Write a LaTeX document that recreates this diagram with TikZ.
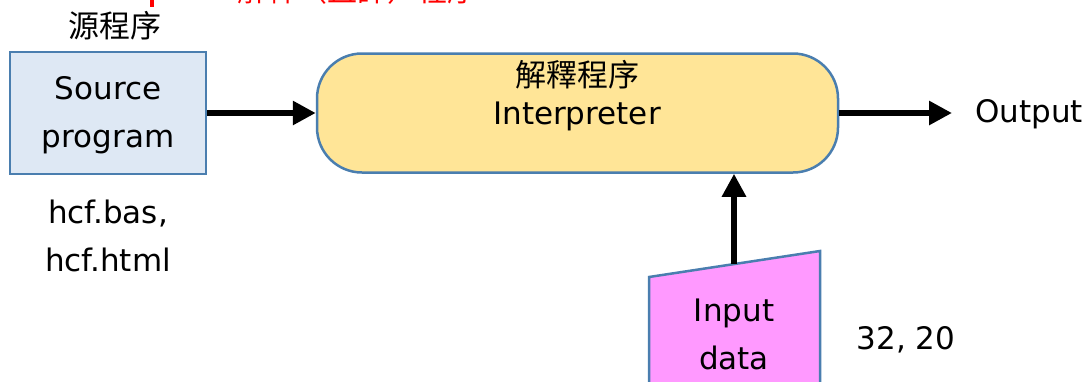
\documentclass[tikz,border=0pt]{standalone}
\usepackage{fontspec}
\setmainfont{DejaVu Sans}
\newfontfamily\cjk{Noto Sans CJK TC}
\usetikzlibrary{arrows.meta}
\definecolor{bord}{HTML}{4A7EAF}
\definecolor{srcfill}{HTML}{DEE8F4}
\definecolor{intfill}{HTML}{FFE597}
\definecolor{inpfill}{HTML}{FF99FF}
\tikzset{
  box/.style={draw=bord, line width=2.5pt},
  lbl/.style={font=\fontsize{31}{48}\selectfont, align=center, inner sep=0pt},
  cjklbl/.style={font=\cjk\fontsize{31}{34}\selectfont, inner sep=0pt},
  arr/.style={line width=6pt, -{Triangle[length=23pt,width=23pt]}}
}
\begin{document}
\begin{tikzpicture}[x=1pt,y=-1pt]
\useasboundingbox (0,0) rectangle (1091,381);
\clip (0,0) rectangle (1091,381);
% cut-off red title
\node[text=red, font=\cjk\fontsize{30}{30}\selectfont, anchor=base, inner sep=0pt] (title) at (357,1) {解釋（直譯）程序};
\draw[red, line width=4pt] (152,-2) -- (152,7);
% source
\node[box, fill=srcfill, minimum width=196pt, minimum height=122pt, inner sep=0pt] (src) at (108,113) {};
\node[lbl] (srctxt) at (108,115) {Source\\program};
\node[cjklbl] (srccjk) at (115,26) {源程序};
\node[lbl] (files) at (108,236) {hcf.bas,\\hcf.html};
% interpreter
\node[box, fill=intfill, rounded corners=45pt, minimum width=521pt, minimum height=119pt, inner sep=0pt] (interp) at (577.5,113) {};
\node[cjklbl] (intcjk) at (577,75) {解釋程序};
\node[lbl] (inttxt) at (577,116) {Interpreter};
% input data
\draw[box, fill=inpfill] (649,277) -- (820,251) -- (820,400) -- (649,400) -- cycle;
\coordinate (intop) at (734,264);
\node[lbl] (inptxt) at (734,334) {Input\\data};
\node[lbl] (nums) at (906,340) {32, 20};
% output
\node[lbl, anchor=west] (out) at (975,114) {Output};
\coordinate (outtip) at (952,113);
% arrows
\draw[arr] (src.east) -- (interp.west);
\draw[arr] (interp.east) -- (outtip);
\draw[arr] (intop) -- (interp.south -| intop);
\end{tikzpicture}
\end{document}
